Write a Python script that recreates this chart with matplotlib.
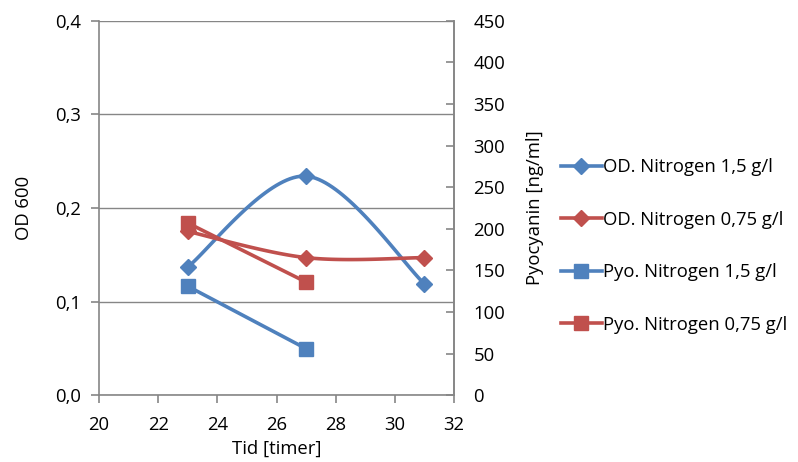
import numpy as np
import matplotlib
matplotlib.use("Agg")
import matplotlib.pyplot as plt
from matplotlib.ticker import FuncFormatter
from matplotlib.lines import Line2D

plt.rcParams['font.family'] = ['Open Sans', 'DejaVu Sans']

# data
time = [23, 27, 31]
od_15 = [0.137, 0.234, 0.119]
od_075 = [0.175, 0.147, 0.147]
time_pyo = [23, 27]
pyo_15 = [131, 56]
pyo_075 = [207, 136]

labels = ["OD. Nitrogen 1,5 g/l", "OD. Nitrogen 0,75 g/l",
          "Pyo. Nitrogen 1,5 g/l", "Pyo. Nitrogen 0,75 g/l"]

BLUE = "#4F81BD"
RED = "#C0504D"
GREY = "#868686"


def smooth(x, y, n=40):
    # Excel-style smoothed line: cubic Bezier with Catmull-Rom control points
    p = np.column_stack([x, y]).astype(float)
    pts = [p[0]]
    for i in range(len(p) - 1):
        p0 = p[i - 1] if i > 0 else p[i]
        p3 = p[i + 2] if i + 2 < len(p) else p[i + 1]
        c1 = p[i] + (p[i + 1] - p0) / 6
        c2 = p[i + 1] - (p3 - p[i]) / 6
        t = np.linspace(0, 1, n)[1:, None]
        seg = ((1 - t) ** 3 * p[i] + 3 * (1 - t) ** 2 * t * c1
               + 3 * (1 - t) * t ** 2 * c2 + t ** 3 * p[i + 1])
        pts.extend(seg)
    pts = np.array(pts)
    return pts[:, 0], pts[:, 1]


fig = plt.figure(figsize=(7.98, 4.62), dpi=100)
ax = fig.add_axes([0.124, 0.1444, 0.445, 0.8108])
ax2 = ax.twinx()

fs = 13.3
lw = 2.6

for yv, c in [(od_15, BLUE), (od_075, RED)]:
    sx, sy = smooth(time, yv)
    ax.plot(sx, sy, color=c, lw=lw, solid_capstyle="round", zorder=3)
    ax.plot(time, yv, ls="none", marker="D", ms=8.5, color=c, zorder=4)

ax2.plot(time_pyo, pyo_15, color=BLUE, lw=lw, marker="s", ms=9.5)
ax2.plot(time_pyo, pyo_075, color=RED, lw=lw, marker="s", ms=9.5)

ax.set_xlim(20, 32)
ax.set_ylim(0, 0.4)
ax2.set_ylim(0, 450)
ax.set_xticks(np.arange(20, 33, 2))
ax.set_yticks(np.arange(0, 0.41, 0.1))
ax2.set_yticks(np.arange(0, 451, 50))
ax.yaxis.set_major_formatter(FuncFormatter(lambda v, p: f"{v:.1f}".replace(".", ",")))

ax.yaxis.grid(True, color=GREY, lw=1)
ax.set_axisbelow(True)
for a in (ax, ax2):
    for s in a.spines.values():
        s.set_color(GREY)
        s.set_linewidth(1.2)
    a.spines["top"].set_visible(False)
ax2.spines["left"].set_visible(False)
ax2.spines["bottom"].set_visible(False)

ax.tick_params(axis="both", colors=GREY, labelcolor="black", labelsize=fs,
               length=6, width=1.2)
ax.tick_params(axis="x", pad=9)
ax.tick_params(axis="y", pad=7)
ax2.tick_params(axis="y", colors=GREY, labelcolor="black", labelsize=fs,
                length=6, width=1.2, direction="in", pad=14)

ax.set_xlabel("Tid [timer]", fontsize=fs, labelpad=4)
ax.set_ylabel("OD 600", fontsize=fs, labelpad=16)
ax2.set_ylabel("Pyocyanin [ng/ml]", fontsize=fs, labelpad=15)

handles = [
    Line2D([], [], color=BLUE, lw=lw, marker="D", ms=8.5),
    Line2D([], [], color=RED, lw=lw, marker="D", ms=8.5),
    Line2D([], [], color=BLUE, lw=lw, marker="s", ms=9.5),
    Line2D([], [], color=RED, lw=lw, marker="s", ms=9.5),
]
fig.legend(handles, labels, loc="center left", bbox_to_anchor=(0.703, 0.468),
           frameon=False, fontsize=fs, handlelength=2.2, handletextpad=0.1,
           labelspacing=1.87, borderaxespad=0, borderpad=0)

fig.savefig("out.png", dpi=100)
